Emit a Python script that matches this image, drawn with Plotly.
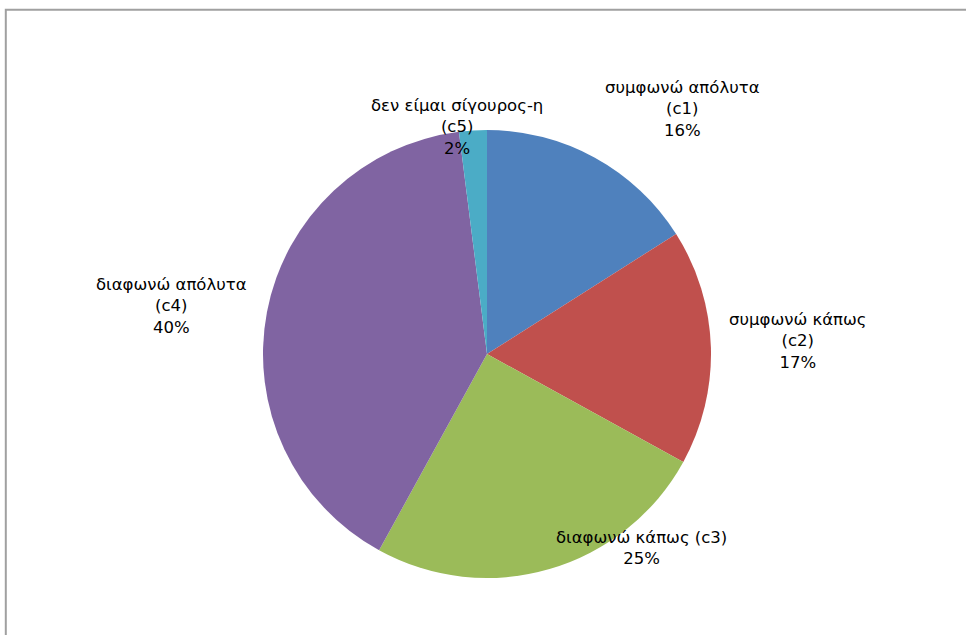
import math
import plotly.graph_objects as go

categories = ["συμφωνώ απόλυτα (c1)", "συμφωνώ κάπως (c2)", "διαφωνώ κάπως (c3)",
              "διαφωνώ απόλυτα (c4)", "δεν είμαι σίγουρος-η (c5)"]
display_labels = ["συμφωνώ απόλυτα<br>(c1)", "συμφωνώ κάπως<br>(c2)", "διαφωνώ κάπως (c3)",
                  "διαφωνώ απόλυτα<br>(c4)", "δεν είμαι σίγουρος-η<br>(c5)"]
values = [16, 17, 25, 40, 2]
colors = ["#4F81BD", "#C0504D", "#9BBB59", "#8064A2", "#4BACC6"]

# label placement style (Excel "best fit" look): angle tweak (deg) and distance (px) from centre
label_angle_tweak = [9.8, -0.6, -22.4, -2.1, -3.9]
label_dist = [314, 311, 248, 319, 229]

W, H = 966, 635
cx, cy, r = 487, 354, 224
FONT = dict(family="DejaVu Sans", size=16.5, color="#000000")

fig = go.Figure(go.Pie(
    labels=categories,
    values=values,
    sort=False,
    direction="clockwise",
    rotation=0,
    marker=dict(colors=colors, line=dict(width=0)),
    textinfo="none",
    showlegend=False,
    hoverinfo="label+percent",
    domain=dict(x=[(cx - r) / W, (cx + r) / W], y=[(H - cy - r) / H, (H - cy + r) / H]),
))

total = sum(values)
cum = 0
for lab, v, tw, d in zip(display_labels, values, label_angle_tweak, label_dist):
    mid = (cum + v / 2) / total * 360
    cum += v
    th = math.radians(mid + tw)
    px = cx + d * math.sin(th)
    py = cy - d * math.cos(th)
    pct = round(v / total * 100)
    fig.add_annotation(xref="paper", yref="paper", x=px / W, y=1 - py / H,
                       xanchor="center", yanchor="middle", align="center",
                       text=f"{lab}<br>{pct}%", showarrow=False, font=FONT)

fig.add_shape(type="rect", xref="paper", yref="paper",
              x0=5.8 / W, x1=1.05, y0=-0.05, y1=(H - 9.8) / H,
              line=dict(color="#A0A0A0", width=2), fillcolor="rgba(0,0,0,0)")

fig.update_layout(width=W, height=H, margin=dict(l=0, r=0, t=0, b=0),
                  paper_bgcolor="white", plot_bgcolor="white")

fig.write_html("out.html", config={"displayModeBar": False},
               post_script="document.body.style.margin='0';")
